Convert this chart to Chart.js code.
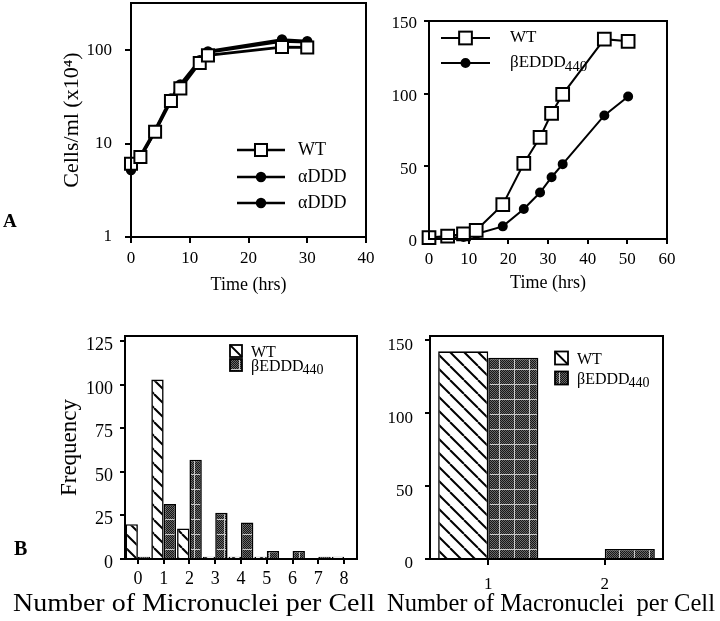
<!DOCTYPE html>
<html><head><meta charset="utf-8">
<script src="https://cdn.jsdelivr.net/npm/chart.js@4.4.0/dist/chart.umd.min.js"></script>
<style>
body{margin:0;background:#fff;width:720px;height:621px;position:relative;overflow:hidden;}
canvas{position:absolute;}
.t{position:absolute;white-space:nowrap;color:#000;font-family:"Liberation Serif",serif;line-height:1;}
</style></head><body>
<canvas id="cA1" width="380" height="300" style="left:0;top:0"></canvas>
<canvas id="cA2" width="340" height="300" style="left:380px;top:0"></canvas>
<canvas id="cB1" width="380" height="290" style="left:0;top:310px"></canvas>
<canvas id="cB2" width="340" height="290" style="left:380px;top:310px"></canvas>
<div class="t" style="left:3px;top:211px;font-size:19px;font-weight:bold">A</div>
<div class="t" style="left:14px;top:538px;font-size:20px;font-weight:bold">B</div>
<div class="t" id="tB1" style="left:13px;top:590px;font-size:25px">Number of Micronuclei per Cell</div>
<div class="t" id="tB2" style="left:387px;top:590px;font-size:25px">Number of Macronuclei&nbsp; per Cell</div>
<script>
// ---------- DATA ----------
const growthTimeA = [0, 1.6, 4.1, 6.8, 8.4, 11.7, 13.1, 25.7, 30];
const wtGrowthA   = [6.1, 7.2, 13.4, 28.5, 39, 73, 88, 108, 107];
const aDDDGrowth1 = [5.2, 7.0, 13.6, 29.5, 41, 76, 97, 130, 125];
const aDDDGrowth2 = [5.5, 7.4, 14.0, 30.5, 43, 78, 95, 124, 122];
const seriesNamesA = ['WT', 'αDDD', 'αDDD'];
const yTicksA = [1, 10, 100];

const growthTimeB = [0, 4.7, 8.7, 11.9, 18.6, 23.9, 28, 30.9, 33.7, 44.2, 50.2];
const wtGrowthB   = [1, 2, 3.5, 6, 23.6, 52, 70, 86.5, 99.5, 137.5, 136];
const betaGrowthB = [0.3, 0.7, 1.4, 3.4, 8.7, 20.6, 32, 42.5, 51.5, 85, 98];
const seriesNamesB = ['WT', 'βEDDD440'];

const microCategories = ['0', '1', '2', '3', '4', '5', '6', '7', '8'];
const wtMicro   = [20, 103, 17.5, 1.3, 1.3, 1.3, 0, 0, 1.3];
const betaMicro = [1.3, 31.5, 57, 26.5, 21, 4.6, 4.6, 1.3, 0];
const yTicksMicro = [0, 25, 50, 75, 100, 125];
const macroCategories = ['1', '2'];
const wtMacro   = [142.5, 0];
const betaMacro = [138, 6.9];
const yTicksMacro = [0, 50, 100, 150];
const barSeriesNames = ['WT', 'βEDDD440'];

// ---------- STYLE HELPERS ----------
const FF = '"Liberation Serif", "Times New Roman", serif';
function hatchTile() {
  const c = document.createElement('canvas'); c.width = 14; c.height = 14;
  const g = c.getContext('2d');
  g.fillStyle = '#fff'; g.fillRect(0, 0, 14, 14);
  g.strokeStyle = '#000'; g.lineWidth = 2;
  for (let k = -1; k <= 1; k++) { g.beginPath(); g.moveTo(k * 14, 0); g.lineTo(k * 14 + 14, 14); g.stroke(); }
  return c;
}
function darkTile() {
  const c = document.createElement('canvas'); c.width = 15; c.height = 15;
  const g = c.getContext('2d');
  g.fillStyle = '#161616'; g.fillRect(0, 0, 15, 15);
  g.fillStyle = '#6a6a6a';
  for (let i = 0; i < 15; i++) for (let j = 0; j < 15; j++) if ((i + j) % 2 === 0) g.fillRect(i, j, 1, 1);
  g.fillStyle = '#c8c8c8'; g.fillRect(14, 0, 1, 15); g.fillRect(0, 14, 15, 1);
  return c;
}
const HT = hatchTile(), DT = darkTile();

function fixAxis(size, horiz) {
  return function (s) {
    if (horiz) s.height = size; else s.width = size;
    s.paddingLeft = s.paddingRight = s.paddingTop = s.paddingBottom = 0;
  };
}
function setTicks(values) {
  return function (s) { s.ticks = values.map(v => ({ value: v })); };
}
function gridCfg(len) {
  return { drawOnChartArea: false, drawTicks: true, tickLength: len, color: '#000', lineWidth: 2, offset: false };
}
function drawLabel(ctx, text, x, y, size) {
  ctx.fillStyle = '#000'; ctx.textBaseline = 'middle'; ctx.textAlign = 'left';
  const m = text.match(/^(.*?[^\d])(\d+)$/);
  ctx.font = size + 'px ' + FF;
  if (m) {
    ctx.fillText(m[1], x, y);
    const w = ctx.measureText(m[1]).width;
    ctx.font = Math.round(size * 0.88) + 'px ' + FF;
    ctx.fillText(m[2], x + w - 1, y + size * 0.22);
  } else ctx.fillText(text, x, y);
}
function drawMarker(ctx, ds, x, y) {
  ctx.lineWidth = ds.pointBorderWidth; ctx.strokeStyle = '#000'; ctx.fillStyle = ds.pointBackgroundColor;
  if (ds.pointStyle === 'rect') {
    const h = ds.pointRadius * Math.SQRT1_2;
    ctx.fillRect(x - h, y - h, 2 * h, 2 * h); ctx.strokeRect(x - h, y - h, 2 * h, 2 * h);
  } else {
    ctx.beginPath(); ctx.arc(x, y, ds.pointRadius, 0, Math.PI * 2); ctx.fill(); ctx.stroke();
  }
}
const framePlugin = {
  id: 'frame',
  afterDatasetsDraw(chart, args, opts) {
    const { ctx, chartArea: a } = chart;
    ctx.save();
    ctx.strokeStyle = '#000'; ctx.lineWidth = 2;
    ctx.strokeRect(a.left, a.top, a.right - a.left, a.bottom - a.top);
    const L = opts.legend;
    if (L) {
      chart.data.datasets.forEach((ds, i) => {
        const y = L.ys[i];
        if (L.type === 'line') {
          ctx.strokeStyle = '#000'; ctx.lineWidth = L.lw;
          ctx.beginPath(); ctx.moveTo(L.x1, y); ctx.lineTo(L.x2, y); ctx.stroke();
          drawMarker(ctx, ds, (L.x1 + L.x2) / 2, y);
          drawLabel(ctx, ds.label, L.tx, y, L.fs);
        } else {
          const s = L.box, x = L.x, top = y - s / 2;
          if (i === 0) {
            ctx.fillStyle = '#fff'; ctx.fillRect(x, top, s, s);
            ctx.strokeStyle = '#000'; ctx.lineWidth = 1.8;
            ctx.beginPath(); ctx.moveTo(x, top); ctx.lineTo(x + s, top + s); ctx.stroke();
          } else {
            ctx.fillStyle = ctx.createPattern(DT, 'repeat'); ctx.fillRect(x, top, s, s);
          }
          ctx.strokeStyle = '#000'; ctx.lineWidth = 1.8; ctx.strokeRect(x, top, s, s);
          drawLabel(ctx, ds.label, L.tx, y + 2, L.fs);
        }
      });
    }
    ctx.restore();
  }
};
Chart.register(framePlugin);
Chart.defaults.font.family = FF;
Chart.defaults.color = '#000';

const base = { responsive: false, animation: false, events: [], plugins: { legend: { display: false }, tooltip: { enabled: false } } };
function tickFont(sz) { return { family: FF, size: sz }; }
function pad(top, right) { return { autoPadding: false, padding: { top, right, left: 0, bottom: 0 } }; }

// ---------- PANEL A1 (log growth) ----------
function lineDs(label, xs, ys, style, r, lw) {
  return {
    label, data: xs.map((x, i) => ({ x, y: ys[i] })), borderColor: '#000', borderWidth: lw,
    pointStyle: style, pointRadius: r, pointBorderWidth: 2, pointBorderColor: '#000',
    pointBackgroundColor: style === 'rect' ? '#fff' : '#000', fill: false, tension: 0, clip: false
  };
}
new Chart(document.getElementById('cA1'), {
  type: 'line',
  data: { datasets: [
    lineDs(seriesNamesA[0], growthTimeA, wtGrowthA, 'rect', 8.5, 2.8),
    lineDs(seriesNamesA[1], growthTimeA, aDDDGrowth1, 'circle', 4.2, 2.8),
    lineDs(seriesNamesA[2], growthTimeA, aDDDGrowth2, 'circle', 4.2, 2.8)
  ] },
  options: Object.assign({}, base, {
    layout: pad(3, 14),
    plugins: Object.assign({}, base.plugins, { frame: { legend: { type: 'line', x1: 237, x2: 285, tx: 298, ys: [150, 177, 203], fs: 18, lw: 2.5 } } }),
    scales: {
      x: { type: 'linear', min: 0, max: 40, afterFit: fixAxis(63, true), grid: gridCfg(6), border: { display: false },
        ticks: { stepSize: 10, font: tickFont(17), padding: 5, maxRotation: 0, autoSkip: false },
        title: { display: true, text: 'Time (hrs)', font: { family: FF, size: 18 }, padding: { top: 0, bottom: 4 } } },
      y: { type: 'logarithmic', min: 1, max: 320, afterFit: fixAxis(131, false), grid: gridCfg(6), border: { display: false },
        afterBuildTicks: setTicks(yTicksA),
        ticks: { font: tickFont(17), padding: 13, callback: v => String(v) },
        title: { display: true, text: 'Cells/ml (x10⁴)', font: { family: FF, size: 22 }, padding: { top: 59, bottom: 0 } } }
    }
  })
});

// ---------- PANEL A2 (linear growth) ----------
new Chart(document.getElementById('cA2'), {
  type: 'line',
  data: { datasets: [
    lineDs(seriesNamesB[0], growthTimeB, wtGrowthB, 'rect', 9, 2),
    lineDs(seriesNamesB[1], growthTimeB, betaGrowthB, 'circle', 4, 2)
  ] },
  options: Object.assign({}, base, {
    layout: pad(21, 53),
    plugins: Object.assign({}, base.plugins, { frame: { legend: { type: 'line', x1: 61, x2: 110, tx: 130, ys: [38, 63], fs: 17, lw: 2 } } }),
    scales: {
      x: { type: 'linear', min: 0, max: 60, afterFit: fixAxis(61, true), grid: gridCfg(5), border: { display: false },
        ticks: { stepSize: 10, font: tickFont(17), padding: 5, maxRotation: 0, autoSkip: false },
        title: { display: true, text: 'Time (hrs)', font: { family: FF, size: 18 }, padding: { top: 0, bottom: 6 } } },
      y: { type: 'linear', min: 0, max: 150, afterFit: fixAxis(49, false), grid: gridCfg(5), border: { display: false },
        ticks: { stepSize: 50, font: tickFont(17), padding: 7, labelOffset: 3 } }
    }
  })
});

// ---------- PANEL B1 (micronuclei) ----------
function barDs(label, data, pat, chartCtx, cp) {
  return { label, data, backgroundColor: chartCtx.createPattern(pat, 'repeat'), borderColor: '#000', borderWidth: 1.6,
    categoryPercentage: cp, barPercentage: 1 };
}
const ctxB1 = document.getElementById('cB1').getContext('2d');
new Chart(ctxB1, {
  type: 'bar',
  data: { labels: microCategories, datasets: [
    barDs(barSeriesNames[0], wtMicro, HT, ctxB1, 0.96),
    barDs(barSeriesNames[1], betaMicro, DT, ctxB1, 0.96)
  ] },
  options: Object.assign({}, base, {
    layout: pad(26, 23),
    plugins: Object.assign({}, base.plugins, { frame: { legend: { type: 'bar', x: 230, box: 12, tx: 251, ys: [41, 55], fs: 16 } } }),
    scales: {
      x: { afterFit: fixAxis(41, true), grid: gridCfg(5), border: { display: false },
        ticks: { font: tickFont(18), padding: 4, maxRotation: 0, autoSkip: false } },
      y: { min: 0, max: 128, afterFit: fixAxis(125, false), grid: gridCfg(5), border: { display: false },
        afterBuildTicks: setTicks(yTicksMicro),
        ticks: { font: tickFont(18), padding: 7, labelOffset: 4 },
        title: { display: true, text: 'Frequency', font: { family: FF, size: 23 }, padding: { top: 56, bottom: 0 } } }
    }
  })
});

// ---------- PANEL B2 (macronuclei) ----------
const ctxB2 = document.getElementById('cB2').getContext('2d');
new Chart(ctxB2, {
  type: 'bar',
  data: { labels: macroCategories, datasets: [
    barDs(barSeriesNames[0], wtMacro, HT, ctxB2, 0.86),
    barDs(barSeriesNames[1], betaMacro, DT, ctxB2, 0.86)
  ] },
  options: Object.assign({}, base, {
    layout: pad(26, 57),
    plugins: Object.assign({}, base.plugins, { frame: { legend: { type: 'bar', x: 175, box: 13, tx: 197, ys: [48, 68], fs: 16 } } }),
    scales: {
      x: { afterFit: fixAxis(41, true), grid: gridCfg(6), border: { display: false },
        ticks: { font: tickFont(17), padding: 9, maxRotation: 0, autoSkip: false } },
      y: { min: 0, max: 153, afterFit: fixAxis(50, false), grid: gridCfg(5), border: { display: false },
        afterBuildTicks: setTicks(yTicksMacro),
        ticks: { font: tickFont(17), padding: 12, labelOffset: 5 } }
    }
  })
});

// fit bottom titles to the reference widths
function fitW(id, w) {
  const el = document.getElementById(id);
  const cw = el.getBoundingClientRect().width;
  el.style.transformOrigin = '0 0';
  el.style.transform = 'scaleX(' + (w / cw) + ')';
}
fitW('tB1', 362);
fitW('tB2', 328);
</script>
</body></html>
